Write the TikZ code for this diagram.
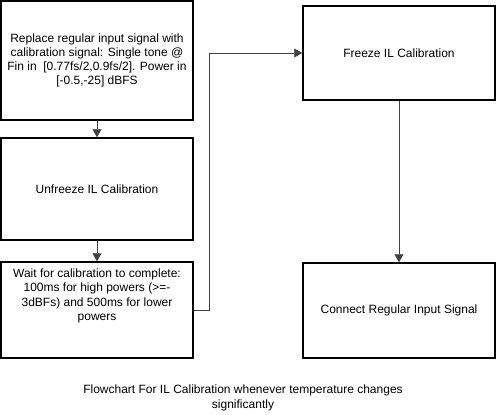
\documentclass[tikz,border=0pt]{standalone}
\usepackage{fontspec}
\setmainfont{Liberation Sans}
\usetikzlibrary{arrows.meta}
\definecolor{conn}{HTML}{404040}
\begin{document}
\begin{tikzpicture}[x=1pt,y=-1pt,
  box/.style={draw=black,line width=1.5pt,minimum width=192pt,inner sep=0pt,font=\fontsize{12}{14}\selectfont,align=center},
  link/.style={draw=conn,line width=0.8pt,-{Triangle[length=8pt,width=9pt]}}]
\useasboundingbox (0,0) rectangle (496,415);
\node[box,minimum height=119pt] (b1) at (97,60.5) {Replace regular input signal with\\calibration signal: Single tone @\\Fin in\ \ [0.77fs/2,0.9fs/2]. Power in\\{}[-0.5,-25] dBFS};
\node[box,minimum height=102pt] (b2) at (97,189) {Unfreeze IL Calibration};
\node[box,minimum height=96pt] (b3) at (97,310) {};
\node[font=\fontsize{12}{14.5}\selectfont,align=center] (t3) at (97,296) {Wait for calibration to complete:\\100ms for high powers (>=-\\3dBFs) and 500ms for lower\\powers};
\node[box,minimum height=94pt] (fr) at (399,53) {Freeze IL Calibration};
\node[box,minimum height=95pt] (cn) at (399,310.5) {Connect Regular Input Signal};
\coordinate (turn) at (209,0);
\node[font=\fontsize{12}{15}\selectfont,align=center] (cap) at (243,398) {Flowchart For IL Calibration whenever temperature changes\\significantly};
\draw[link] (b1.south) -- (b2.north);
\draw[link] (b2.south) -- (b3.north);
\draw[link] (fr.south) -- (cn.north);
\draw[link] (b3.east) -- (turn |- b3.east) |- (fr.west);
\end{tikzpicture}
\end{document}
